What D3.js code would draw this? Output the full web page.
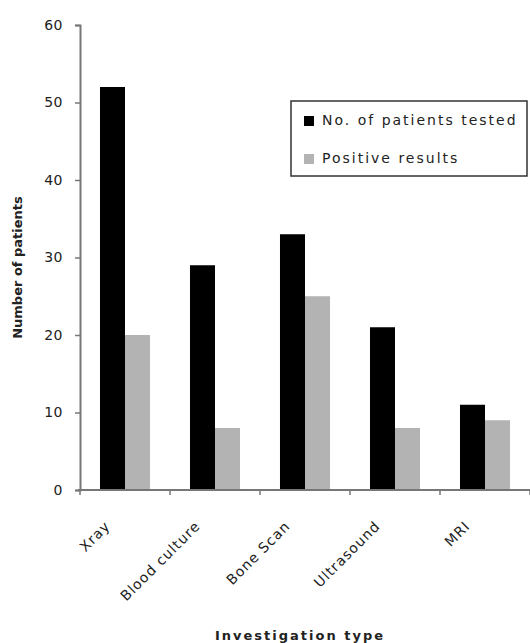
<!DOCTYPE html>
<html>
<head>
<meta charset="utf-8">
<script src="https://cdn.jsdelivr.net/npm/d3@7"></script>
<style>
  html, body { margin: 0; padding: 0; background: #fff; }
  svg { display: block; }
  text { font-family: "DejaVu Sans", Verdana, sans-serif; fill: #222; }
</style>
</head>
<body>
<script>
// Investigation types and patient counts
const categories = ["Xray", "Blood culture", "Bone Scan", "Ultrasound", "MRI"];
const seriesNames = ["No. of patients tested", "Positive results"];
const tested = [52, 29, 33, 21, 11];
const positive = [20, 8, 25, 8, 9];
const yTicks = [0, 10, 20, 30, 40, 50, 60];
const colors = ["#000000", "#b3b3b3"];

const W = 530, H = 643;
const svg = d3.select("body").append("svg").attr("width", W).attr("height", H);

const x0 = d3.scaleBand().domain(categories).range([80, 530])
  .paddingInner(0.444).paddingOuter(0.222);
const x1 = d3.scaleBand().domain(seriesNames).range([0, x0.bandwidth()]);
const y = d3.scaleLinear().domain([0, 60]).range([490, 25]);

const rows = categories.map((c, i) => ({ cat: c, vals: [tested[i], positive[i]] }));

// bars
const g = svg.append("g");
rows.forEach(r => {
  r.vals.forEach((v, j) => {
    g.append("rect")
      .attr("x", x0(r.cat) + x1(seriesNames[j]))
      .attr("y", y(v))
      .attr("width", x1.bandwidth())
      .attr("height", y(0) - y(v))
      .attr("fill", colors[j]);
  });
});

// y axis
const yAxis = svg.append("g").attr("transform", "translate(80,0)")
  .call(d3.axisLeft(y).tickValues(yTicks).tickSize(5).tickPadding(12));
yAxis.select(".domain").attr("stroke", "#777").attr("stroke-width", 2);
yAxis.selectAll(".tick line").attr("stroke", "#777").attr("stroke-width", 1.5);
yAxis.selectAll(".tick text").style("font-size", "14px").style("letter-spacing", "0.5px")
  .attr("fill", "#444");

// x axis with ticks on band boundaries
const xAxisG = svg.append("g");
xAxisG.append("line").attr("x1", 78).attr("x2", 530).attr("y1", y(0)).attr("y2", y(0))
  .attr("stroke", "#777").attr("stroke-width", 2);
const bounds = categories.map(c => x0(c) - x0.step() * x0.paddingOuter()).concat([530]);
xAxisG.selectAll("line.tk").data(bounds).enter().append("line")
  .attr("class", "tk")
  .attr("x1", d => d).attr("x2", d => d)
  .attr("y1", y(0)).attr("y2", y(0) + 5)
  .attr("stroke", "#777").attr("stroke-width", 1.5);

xAxisG.selectAll("text.lbl").data(categories).enter().append("text")
  .attr("class", "lbl")
  .attr("text-anchor", "end")
  .attr("transform", d => `translate(${x0(d) + x0.bandwidth() / 2 - 14},${y(0) + 37}) rotate(-45)`)
  .style("font-size", "14px").style("letter-spacing", "1px")
  .attr("fill", "#333")
  .text(d => d);

// axis titles
svg.append("text")
  .attr("transform", `translate(22,${(y(0) + y(60)) / 2 + 10}) rotate(-90)`)
  .attr("text-anchor", "middle")
  .style("font-size", "13px").style("font-weight", "bold")
  .text("Number of patients");

svg.append("text")
  .attr("x", 300).attr("y", 640)
  .attr("text-anchor", "middle")
  .style("font-size", "13px").style("font-weight", "bold").style("letter-spacing", "2px")
  .text("Investigation type");

// legend
const lg = svg.append("g");
lg.append("rect").attr("x", 291).attr("y", 101).attr("width", 236).attr("height", 75)
  .attr("fill", "#fff").attr("stroke", "#333").attr("stroke-width", 1.5);
seriesNames.forEach((s, i) => {
  const cy = 121 + i * 38;
  lg.append("rect").attr("x", 304).attr("y", cy - 5).attr("width", 10).attr("height", 10)
    .attr("fill", colors[i]);
  lg.append("text").attr("x", 322).attr("y", cy + 4)
    .style("font-size", "14px").style("letter-spacing", "2px")
    .attr("fill", "#333")
    .text(s);
});
</script>
</body>
</html>
